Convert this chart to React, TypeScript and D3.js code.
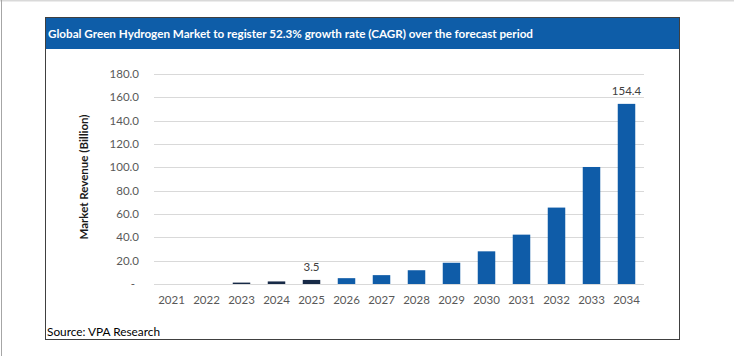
import React from "react";
import * as d3 from "d3";

const years = ["2021","2022","2023","2024","2025","2026","2027","2028","2029","2030","2031","2032","2033","2034"];
const revenue = [0, 0, 1.2, 2.2, 3.5, 5.0, 7.6, 11.8, 18.2, 28.0, 42.3, 65.5, 100.3, 154.4];
const highlightYears = ["2023", "2024", "2025"];
const labeledYears = ["2025", "2034"];
const yTicks = [0, 20, 40, 60, 80, 100, 120, 140, 160, 180];
const title = "Global Green Hydrogen Market to register 52.3% growth rate (CAGR) over the forecast period";
const yTitle = "Market Revenue (Billion)";
const source = "Source: VPA Research";

const W = 734, H = 356;
const FONT = "Lato, 'Open Sans', sans-serif";

export default function App() {
  const x = d3.scaleBand<string>().domain(years).range([154, 644]).paddingInner(0.5).paddingOuter(0.25);
  const y = d3.scaleLinear().domain([0, 180]).range([284, 74]);
  const blue = "#0f5ca8";
  const dark = "#172a47";

  return (
    <svg width={W} height={H} style={{ position: "absolute", left: 0, top: 0, background: "#fff" }}>
      <line x1={0} x2={W} y1={0.5} y2={0.5} stroke="#d9d9d9" strokeWidth={2} />
      <line x1={1.5} x2={1.5} y1={0} y2={H} stroke="#a6a6a6" strokeWidth={1} />
      <rect x={45.5} y={17.5} width={634} height={322} fill="#fff" stroke="#404040" strokeWidth={1} />
      <rect x={46} y={18} width={633} height={31} fill="#0e5da8" />
      <text x={48} y={38} fill="#fff" fontFamily={FONT} fontWeight="bold" fontSize={12} textLength={485} lengthAdjust="spacingAndGlyphs">{title}</text>

      {yTicks.map((t) => (
        <g key={t}>
          <line x1={154} x2={644} y1={Math.round(y(t)) + 0.5} y2={Math.round(y(t)) + 0.5} stroke="#d9d9d9" strokeWidth={1} />
          <text x={t === 0 ? 135 : 139} y={y(t) + 4} textAnchor="end" fontFamily={FONT} fontSize={11.5} fill="#595959">
            {t === 0 ? "-" : t.toFixed(1)}
          </text>
        </g>
      ))}

      {years.map((yr, i) => {
        const v = revenue[i];
        if (v <= 0) return null;
        const top = y(v);
        return (
          <rect key={yr} x={x(yr)} y={top} width={x.bandwidth()} height={y(0) - top}
            fill={highlightYears.includes(yr) ? dark : blue} />
        );
      })}

      {years.map((yr, i) => labeledYears.includes(yr) ? (
        <text key={"l" + yr} x={(x(yr) as number) + x.bandwidth() / 2} y={y(revenue[i]) - 8.5} textAnchor="middle"
          fontFamily={FONT} fontSize={11.5} fill="#404040">{revenue[i].toFixed(1)}</text>
      ) : null)}

      {years.map((yr) => (
        <text key={"x" + yr} x={(x(yr) as number) + x.bandwidth() / 2} y={304} textAnchor="middle"
          fontFamily={FONT} fontSize={11.5} fill="#595959">{yr}</text>
      ))}

      <text transform={`translate(88,177) rotate(-90)`} textAnchor="middle" fontFamily={FONT} fontWeight="bold" fontSize={11.5} fill="#1a1a1a">{yTitle}</text>

      <text x={47} y={336} fontFamily={FONT} fontSize={12} fill="#000" textLength={113} lengthAdjust="spacingAndGlyphs">{source}</text>
    </svg>
  );
}
